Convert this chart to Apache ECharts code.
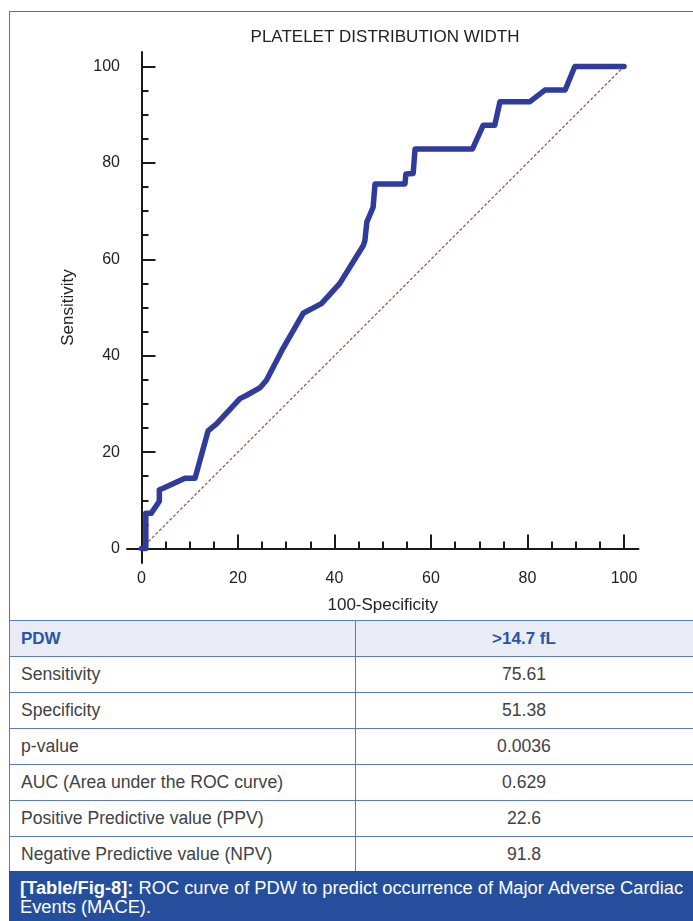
<!DOCTYPE html>
<html>
<head>
<meta charset="utf-8">
<script src="https://cdn.jsdelivr.net/npm/echarts@6/dist/echarts.min.js"></script>
<style>
  html, body { margin: 0; padding: 0; background: #ffffff; }
  body { width: 693px; height: 921px; overflow: hidden; position: relative; font-family: "Liberation Sans", Arial, sans-serif; }
  #frame { position: absolute; left: 9px; top: 11px; width: 720px; height: 620px; border-left: 1.5px solid #4f74b9; border-top: 1.5px solid #4f74b9; box-sizing: border-box; }
  #chart { position: absolute; left: 0; top: 0; width: 693px; height: 620px; }
  #tbl { position: absolute; left: 9px; top: 620px; width: 720px; border-collapse: collapse; table-layout: fixed; }
  #tbl td { border: 1.5px solid #5a7bbf; height: 36px; padding: 0; font-size: 17.6px; color: #424242; box-sizing: border-box; }
  #tbl td.l { padding-left: 11px; width: 346px; }
  #tbl td.r { text-align: center; padding-right: 36px; }
  #tbl tr.h td { background: #e9ecf5; color: #2a55a6; font-weight: bold; font-size: 17px; }
  #cap { position: absolute; left: 9px; top: 871px; width: 720px; height: 60px; background: #254f9d; color: #ffffff; font-size: 18.3px; line-height: 19px; padding: 7px 0 0 11px; box-sizing: border-box; }
  #cap .capin { width: 676px; }
</style>
</head>
<body>
<div id="frame"></div>
<div id="chart"></div>
<table id="tbl"></table>
<div id="cap"><div class="capin"></div></div>
<script>
// ---- data ----
const chartTitle = "PLATELET DISTRIBUTION WIDTH";
const xName = "100-Specificity";
const yName = "Sensitivity";
const rocX = [0, 0.9, 0.9, 2.0, 3.7, 3.7, 4.5, 9.0, 11.1, 13.8, 15.6, 20.4, 21.8, 24.6, 25.9, 29.1, 33.5, 37.3, 41.1, 46.0, 46.3, 46.7, 48.0, 48.4, 54.6, 54.8, 56.3, 56.7, 68.6, 70.8, 73.2, 74.3, 80.5, 83.6, 87.8, 89.8, 100];
const rocY = [0, 0, 7.3, 7.3, 9.8, 12.2, 12.5, 14.6, 14.6, 24.4, 25.9, 31.1, 31.8, 33.4, 34.9, 41.1, 48.8, 50.8, 55.0, 62.9, 63.9, 67.7, 70.8, 75.6, 75.6, 77.7, 77.8, 82.9, 82.9, 87.8, 87.8, 92.7, 92.7, 95.1, 95.1, 100, 100];
const diagX = [0, 100];
const diagY = [0, 100];
const majorTicks = [0, 20, 40, 60, 80, 100];
const minorTicks = [5, 10, 15, 25, 30, 35, 45, 50, 55, 65, 70, 75, 85, 90, 95];
const tableHeader = ["PDW", ">14.7 fL"];
const tableLabels = ["Sensitivity", "Specificity", "p-value", "AUC (Area under the ROC curve)", "Positive Predictive value (PPV)", "Negative Predictive value (NPV)"];
const tableValues = ["75.61", "51.38", "0.0036", "0.629", "22.6", "91.8"];
const captionBold = "[Table/Fig-8]:";
const captionText = " ROC curve of PDW to predict occurrence of Major Adverse Cardiac Events (MACE).";

// ---- table ----
const tbl = document.getElementById('tbl');
let html = '<tr class="h"><td class="l">' + tableHeader[0] + '</td><td class="r">' + tableHeader[1].replace('>', '&gt;') + '</td></tr>';
for (let i = 0; i < tableLabels.length; i++) {
  html += '<tr><td class="l">' + tableLabels[i] + '</td><td class="r">' + tableValues[i] + '</td></tr>';
}
tbl.innerHTML = html;
document.querySelector('#cap .capin').innerHTML = '<b>' + captionBold + '</b>' + captionText;

// ---- chart ----
const rocData = rocX.map((x, i) => [x, rocY[i]]);
const diagData = diagX.map((x, i) => [x, diagY[i]]);
const chart = echarts.init(document.getElementById('chart'), null, { renderer: 'canvas' });
const axisColor = '#1a1a1a';
const labelStyle = { fontSize: 16, color: '#222', fontFamily: 'Liberation Sans' };
function majorAxis(isX) {
  return {
    type: 'value', min: -3, max: 103,
    position: isX ? 'bottom' : 'left',
    axisLine: { show: true, lineStyle: { color: axisColor, width: 2 } },
    axisTick: { show: true, inside: true, length: 14, customValues: majorTicks, lineStyle: { color: axisColor, width: 2 } },
    axisLabel: Object.assign({ show: true, customValues: majorTicks, margin: isX ? 8 : 7 }, labelStyle),
    splitLine: { show: false },
    name: isX ? xName : yName,
    nameLocation: 'middle',
    nameGap: isX ? 34 : 50,
    nameRotate: isX ? 0 : 90,
    nameTextStyle: { fontSize: 17, color: '#222', fontFamily: 'Liberation Sans' }
  };
}
function minorAxis(isX) {
  return {
    type: 'value', min: -3, max: 103,
    position: isX ? 'bottom' : 'left',
    offset: 0,
    axisLine: { show: false },
    axisTick: { show: true, inside: true, length: 7, customValues: minorTicks, lineStyle: { color: axisColor, width: 2 } },
    axisLabel: { show: false },
    splitLine: { show: false }
  };
}
chart.setOption({
  animation: false,
  backgroundColor: 'transparent',
  title: {
    text: chartTitle, left: 380, top: 24, textAlign: 'center',
    textStyle: { fontSize: 17, fontWeight: 'normal', color: '#222', fontFamily: 'Liberation Sans' }
  },
  grid: { left: 127, top: 52, width: 511.5, height: 511, containLabel: false },
  xAxis: [majorAxis(true), minorAxis(true)],
  yAxis: [majorAxis(false), minorAxis(false)],
  series: [
    {
      type: 'line', data: diagData, xAxisIndex: 0, yAxisIndex: 0, showSymbol: false, z: 1,
      lineStyle: { color: '#a04848', width: 1.2, type: [3, 2] }
    },
    {
      type: 'line', data: rocData, xAxisIndex: 0, yAxisIndex: 0, showSymbol: false, z: 2,
      lineStyle: { color: '#2f3c9e', width: 5.5, join: 'round', cap: 'round' }
    }
  ]
});
</script>
</body>
</html>
